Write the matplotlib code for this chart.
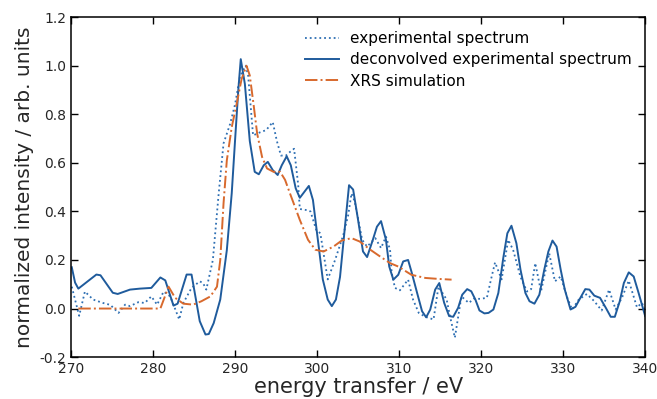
import numpy as np
import matplotlib
matplotlib.use("Agg")
import matplotlib.pyplot as plt

# experimental spectrum (dotted)
e_exp = [270.1, 271.0, 271.7, 272.7, 273.9, 274.8, 275.8, 276.6, 277.2, 278.2,
         279.0, 279.8, 280.5, 281.3, 282.1, 283.2, 283.7, 284.7, 285.7, 286.1,
         286.5, 287.3, 288.0, 288.6, 289.4, 290.0, 290.6, 291.3, 291.6, 292.2,
         293.0, 293.8, 294.6, 295.1, 295.6, 296.2, 296.7, 297.2, 297.7, 297.9,
         298.8, 299.2, 299.9, 300.4, 301.3, 302.2, 303.2, 303.8, 304.2, 304.6,
         305.5, 306.1, 307.1, 307.8, 308.4, 308.9, 309.1, 309.5, 310.1, 311.1,
         311.7, 312.4, 313.2, 314.2, 314.8, 315.8, 316.2, 316.8, 317.6, 318.5,
         319.1, 319.9, 320.7, 321.2, 321.7, 322.5, 323.3, 323.9, 324.8, 325.6,
         326.1, 326.6, 327.3, 328.3, 329.0, 329.7, 330.5, 331.1, 331.9, 332.9,
         333.8, 334.7, 335.6, 336.4, 337.2, 338.0, 339.0, 339.6, 340.0]
i_exp = [0.09, -0.03, 0.07, 0.037, 0.023, 0.015, -0.018, 0.016, 0.01, 0.026,
         0.023, 0.05, 0.016, 0.07, 0.05, -0.045, 0.023, 0.085, 0.112, 0.105,
         0.078, 0.2, 0.47, 0.68, 0.76, 0.84, 0.955, 1.0, 0.96, 0.713,
         0.725, 0.735, 0.768, 0.69, 0.63, 0.63, 0.645, 0.658, 0.51, 0.41,
         0.405, 0.40, 0.324, 0.31, 0.12, 0.2, 0.303, 0.385, 0.474, 0.44,
         0.283, 0.255, 0.29, 0.249, 0.296, 0.242, 0.146, 0.085, 0.075, 0.119,
         0.037, -0.018, -0.034, -0.045, 0.09, 0.037, -0.031, -0.12, 0.05, 0.023,
         0.04, 0.04, 0.044, 0.119, 0.19, 0.12, 0.283, 0.242, 0.13, 0.07,
         0.08, 0.187, 0.07, 0.228, 0.112, 0.132, 0.045, -0.004, 0.037, 0.06,
         0.03, -0.008, 0.078, -0.004, 0.047, 0.115, 0.005, 0.023, -0.004]

# deconvolved experimental spectrum (solid)
e_dec = [270.1, 270.5, 270.9, 273.1, 273.6, 275.1, 275.7, 277.2, 278.4, 279.8,
         280.9, 281.5, 282.5, 283.0, 284.1, 284.7, 285.7, 286.4, 286.8, 287.4,
         288.2, 289.0, 289.6, 290.0, 290.4, 290.7, 291.2, 291.8, 292.4, 292.9,
         293.5, 294.0, 294.6, 295.2, 295.7, 296.3, 296.8, 297.4, 297.9, 299.0,
         299.5, 300.0, 300.7, 301.3, 301.8, 302.3, 302.8, 303.4, 303.9, 304.4,
         305.0, 305.6, 306.1, 306.8, 307.3, 307.8, 308.4, 308.8, 309.3, 309.9,
         310.5, 311.1, 311.5, 312.2, 312.8, 313.3, 313.8, 314.4, 314.9, 315.5,
         316.1, 316.6, 317.2, 317.7, 318.3, 318.8, 319.3, 319.8, 320.4, 320.9,
         321.5, 322.1, 322.7, 323.2, 323.7, 324.3, 324.8, 325.4, 325.9, 326.5,
         327.1, 327.7, 328.2, 328.7, 329.2, 329.7, 330.2, 330.9, 331.5, 332.1,
         332.7, 333.2, 333.8, 334.5, 335.2, 335.8, 336.3, 336.9, 337.4, 338.0,
         338.6, 339.2, 340.0]
i_dec = [0.17, 0.107, 0.082, 0.14, 0.137, 0.065, 0.06, 0.078, 0.082, 0.085,
         0.128, 0.116, 0.012, 0.02, 0.14, 0.14, -0.052, -0.107, -0.105, -0.06,
         0.037, 0.24, 0.475, 0.69, 0.9, 1.027, 0.925, 0.69, 0.563, 0.553,
         0.59, 0.604, 0.57, 0.55, 0.59, 0.627, 0.59, 0.495, 0.456, 0.505,
         0.447, 0.31, 0.12, 0.037, 0.01, 0.037, 0.13, 0.337, 0.508, 0.49,
         0.365, 0.235, 0.212, 0.283, 0.337, 0.36, 0.283, 0.173, 0.119, 0.139,
         0.194, 0.2, 0.153, 0.064, -0.011, -0.036, -0.004, 0.078, 0.105, 0.023,
         -0.031, -0.034, 0.003, 0.057, 0.08, 0.071, 0.037, -0.008, -0.02, -0.018,
         -0.004, 0.064, 0.208, 0.31, 0.341, 0.269, 0.16, 0.064, 0.03, 0.02,
         0.057, 0.16, 0.235, 0.28, 0.255, 0.16, 0.078, -0.004, 0.007, 0.044,
         0.08, 0.078, 0.053, 0.044, 0.003, -0.034, -0.034, 0.03, 0.105, 0.149,
         0.132, 0.064, -0.031]

# XRS simulation (dash-dot)
e_xrs = [270.9, 280.9, 281.9, 282.7, 283.7, 284.9, 285.9, 287.0, 287.8, 288.2,
         288.6, 289.0, 289.6, 290.2, 290.8, 291.4, 291.8, 292.3, 292.7, 293.3,
         293.9, 294.7, 295.5, 296.1, 296.7, 297.9, 298.9, 299.8, 300.8, 302.0,
         303.0, 304.2, 305.2, 306.5, 307.7, 308.9, 309.9, 311.5, 313.2, 314.8,
         316.4]
i_xrs = [0.0, 0.0, 0.09, 0.044, 0.02, 0.016, 0.03, 0.05, 0.09, 0.20,
         0.433, 0.61, 0.747, 0.843, 0.945, 1.0, 0.96, 0.83, 0.72, 0.624,
         0.577, 0.563, 0.563, 0.53, 0.474, 0.365, 0.283, 0.242, 0.235, 0.255,
         0.28, 0.29, 0.276, 0.242, 0.214, 0.187, 0.173, 0.139, 0.126, 0.122,
         0.119]

blue = '#1f5b9c'
blue_light = '#2e6fb3'
orange = '#d8692d'

fig = plt.figure(figsize=(6.57, 3.99), dpi=100)
ax = fig.add_axes([0.108, 0.105, 0.874, 0.852])

ax.plot(e_exp, i_exp, ':', color=blue_light, lw=1.3, label='experimental spectrum')
ax.plot(e_dec, i_dec, '-', color=blue, lw=1.4, label='deconvolved experimental spectrum')
ax.plot(e_xrs, i_xrs, '-.', color=orange, lw=1.4, label='XRS simulation')

ax.set_xlim(270, 340)
ax.set_ylim(-0.2, 1.2)
ax.set_xticks(np.arange(270, 341, 10))
ax.set_yticks(np.arange(-0.2, 1.21, 0.2))
ax.yaxis.set_major_formatter(plt.FormatStrFormatter('%.1f'))
ax.tick_params(direction='in', top=True, right=True, labelsize=10, length=5,
               width=1, labelcolor='#262626')
for s in ax.spines.values():
    s.set_linewidth(1.1)

ax.set_xlabel('energy transfer / eV', fontsize=15, labelpad=1, color='#262626')
ax.set_ylabel('normalized intensity / arb. units', fontsize=14.5, labelpad=4,
              color='#262626')

ax.legend(loc='upper right', frameon=False, fontsize=11, handlelength=2.2,
          bbox_to_anchor=(1.0, 1.0), borderaxespad=0.5, labelspacing=0.42,
          handletextpad=0.7)

fig.savefig('out.png', dpi=100)
